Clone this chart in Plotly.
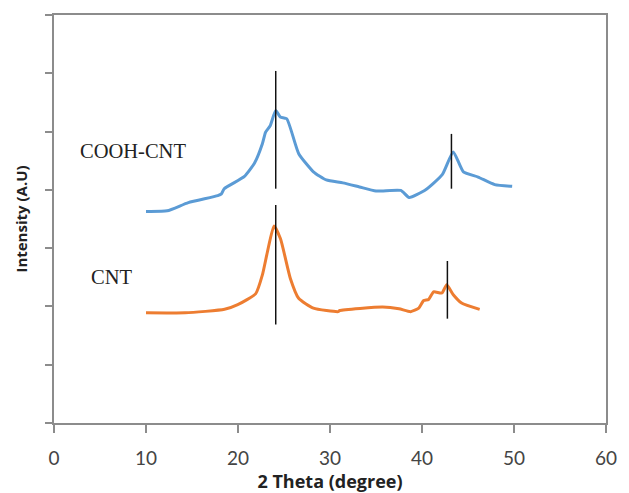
import plotly.graph_objects as go

# COOH-CNT (blue) data
cooh_x = [10.0, 12.3, 14.6, 17.8, 18.2, 18.5, 20.7, 21.8, 22.65, 23.0, 23.5, 24.1, 24.6, 25.3,
          26.6, 28.2, 29.6, 31.4, 33.2, 35.0, 37.7, 38.6, 40.4, 42.2, 43.4, 44.5, 46.1, 47.9, 49.8]
cooh_y = [3.63, 3.64, 3.78, 3.90, 3.93, 4.02, 4.23, 4.46, 4.79, 4.99, 5.10, 5.36, 5.25, 5.22,
          4.62, 4.31, 4.17, 4.12, 4.05, 3.98, 3.99, 3.87, 4.00, 4.26, 4.65, 4.31, 4.22, 4.09, 4.06]

# CNT (orange) data
cnt_x = [10.0, 14.25, 18.54, 19.97, 21.93, 22.65, 23.19, 23.91, 24.62, 25.69, 26.59, 28.2,
         30.89, 31.06, 35.72, 37.5, 38.76, 39.65, 40.18, 40.72, 41.26, 42.16, 42.69, 43.4,
         44.3, 46.27]
cnt_y = [1.89, 1.89, 1.95, 2.03, 2.22, 2.54, 2.93, 3.38, 3.16, 2.48, 2.14, 1.97,
         1.91, 1.93, 1.99, 1.96, 1.91, 1.97, 2.10, 2.12, 2.25, 2.23, 2.37, 2.20,
         2.06, 1.95]

# Peak marker lines: x position, y start, y end
peak_x = [24.1, 24.1, 43.2, 42.76]
peak_y0 = [4.02, 1.69, 4.02, 1.79]
peak_y1 = [6.04, 3.74, 4.96, 2.78]

x_ticks = [0, 10, 20, 30, 40, 50, 60]
y_ticks = [0, 1, 2, 3, 4, 5, 6, 7]

labels = ["COOH-CNT", "CNT"]
label_x = [2.6, 3.8]
label_y = [4.67, 2.50]

fig = go.Figure()
fig.add_trace(go.Scatter(x=cooh_x, y=cooh_y, mode="lines",
                         line=dict(color="#5B9BD5", width=3, shape="spline", smoothing=0.5),
                         showlegend=False))
fig.add_trace(go.Scatter(x=cnt_x, y=cnt_y, mode="lines",
                         line=dict(color="#ED7D31", width=3, shape="spline", smoothing=0.5),
                         showlegend=False))
for px, a, b in zip(peak_x, peak_y0, peak_y1):
    fig.add_trace(go.Scatter(x=[px, px], y=[a, b], mode="lines",
                             line=dict(color="#111111", width=1.5), showlegend=False))

for t, lx, ly in zip(labels, label_x, label_y):
    fig.add_annotation(x=lx, y=ly, text=t, showarrow=False, xanchor="left",
                       font=dict(family="Liberation Serif", size=20.5, color="#222222"))

fig.update_layout(
    width=629, height=493,
    margin=dict(l=54, r=16, t=15, b=63),
    paper_bgcolor="white", plot_bgcolor="white",
    font=dict(family="Lato", color="#444444"),
)
fig.update_xaxes(
    range=[0, 60], tickvals=x_ticks, showgrid=False, zeroline=False,
    showline=True, linecolor="#8c8c8c", linewidth=2, mirror=True,
    ticks="outside", ticklen=8, tickcolor="#8c8c8c", tickwidth=1.5,
    tickfont=dict(family="Lato", size=19, color="#444444"),
    ticklabelstandoff=9,
    title=dict(text="<b>2 Theta (degree)</b>", font=dict(family="Open Sans", size=18, color="#222222"),
               standoff=0),
)
fig.update_yaxes(
    range=[0, 7], tickvals=y_ticks, showticklabels=False, showgrid=False, zeroline=False,
    showline=True, linecolor="#8c8c8c", linewidth=2, mirror=True,
    ticks="outside", ticklen=7, tickcolor="#8c8c8c", tickwidth=1.5,
    title=dict(text="<b>Intensity (A.U)</b>", font=dict(family="Open Sans", size=15, color="#222222"),
               standoff=14),
)

fig.write_html("out.html")
